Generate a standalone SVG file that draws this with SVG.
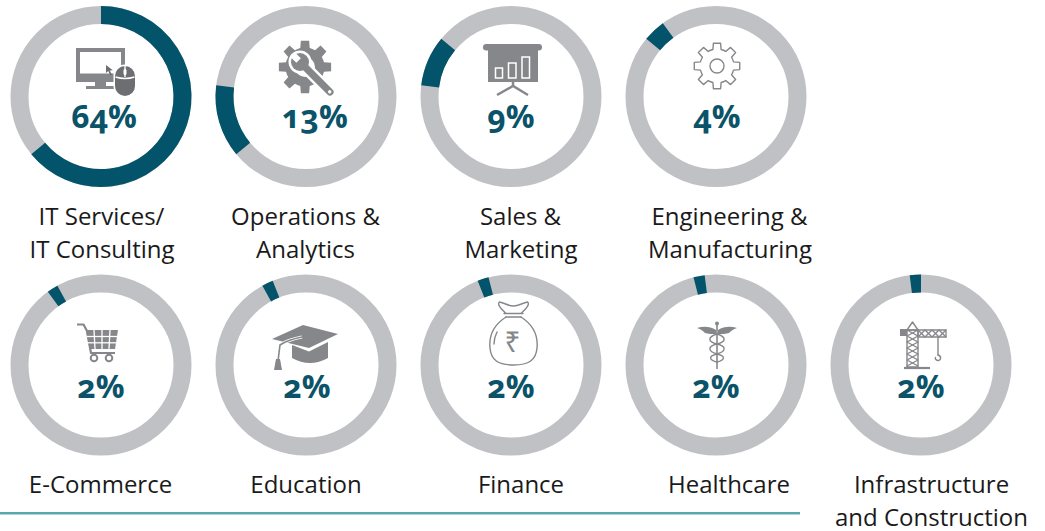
<svg xmlns="http://www.w3.org/2000/svg" width="1045" height="531" viewBox="0 0 1045 531">
<style>
.track{fill:none;stroke:#c0c1c4;stroke-width:18}
.arc{fill:none;stroke:#03546a;stroke-width:18;stroke-linecap:butt}
.pct{font-family:"Open Sans","Liberation Sans",sans-serif;font-weight:700;font-size:32px;fill:#0b5369;text-anchor:middle;font-variant-numeric:oldstyle-nums;font-feature-settings:"onum" 1}
.lbl{font-family:"Open Sans","Liberation Sans",sans-serif;font-size:24px;fill:#1a1a1a;text-anchor:middle}
.ic{fill:#86878a}
.icd{fill:#6d6e71}
.ln{fill:none;stroke:#86878a;stroke-width:1.4;stroke-linejoin:round;stroke-linecap:round}
</style>
<defs>
<path id="gear" d="M-4.11,-16.5 L-3.6,-22.72 L3.6,-22.72 L4.11,-16.5 A17 17 0 0 1 8.76,-14.57 L13.52,-18.61 L18.61,-13.52 L14.57,-8.76 A17 17 0 0 1 16.5,-4.11 L22.72,-3.6 L22.72,3.6 L16.5,4.11 A17 17 0 0 1 14.57,8.76 L18.61,13.52 L13.52,18.61 L8.76,14.57 A17 17 0 0 1 4.11,16.5 L3.6,22.72 L-3.6,22.72 L-4.11,16.5 A17 17 0 0 1 -8.76,14.57 L-13.52,18.61 L-18.61,13.52 L-14.57,8.76 A17 17 0 0 1 -16.5,4.11 L-22.72,3.6 L-22.72,-3.6 L-16.5,-4.11 A17 17 0 0 1 -14.57,-8.76 L-18.61,-13.52 L-13.52,-18.61 L-8.76,-14.57 A17 17 0 0 1 -4.11,-16.5 Z"/>
</defs>

<g id="it-services">
<circle class="track" cx="101" cy="96.5" r="81.5"/>
<path class="arc" d="M101,15 A81.5 81.5 0 1 1 38.2,148.45"/>
<rect class="ic" x="76" y="48" width="49" height="34"/>
<rect x="80" y="52" width="41" height="21.5" fill="#fff"/>
<rect class="ic" x="95" y="82" width="11" height="5"/>
<rect class="ic" x="86" y="86" width="30" height="3"/>
<polygon class="icd" points="106,65 106,73 108.2,71 110.5,75.5 112,74.8 109.8,70.5 112.8,70.3"/>
<rect x="115" y="66" width="20" height="30" rx="10" fill="#fff" stroke="#fff" stroke-width="3"/>
<rect class="icd" x="115" y="66" width="20" height="30" rx="10"/>
<path d="M125,66 L125,77 M115.5,77 Q125,80 134.5,77" stroke="#fff" stroke-width="1.4" fill="none"/>
<rect x="123.5" y="69" width="3" height="6" rx="1.5" fill="#fff"/>
<text class="pct" x="104" y="128">64%</text>
<text class="lbl" x="101.5" y="224.5">IT Services/</text>
<text class="lbl" x="102" y="257.5">IT Consulting</text>
</g>

<g id="operations-analytics">
<circle class="track" cx="306" cy="96.5" r="81.5"/>
<path class="arc" d="M243.2,148.45 A81.5 81.5 0 0 1 225.14,86.29"/>
<use href="#gear" class="ic" transform="translate(305,67) scale(1.15)"/>
<circle cx="305" cy="67" r="10" fill="#fff"/>
<g transform="translate(300,62) rotate(45)">
<circle cx="0" cy="0" r="9" fill="#fff" stroke="#fff" stroke-width="5"/>
<rect x="0" y="-3.6" width="46" height="7.2" rx="3.6" fill="#fff" stroke="#fff" stroke-width="5"/>
<circle class="ic" cx="0" cy="0" r="9"/>
<rect class="ic" x="0" y="-3.6" width="46" height="7.2" rx="3.6"/>
<rect x="-11" y="-3.2" width="9" height="6.4" fill="#fff"/>
<circle cx="42" cy="0" r="1.7" fill="#fff"/>
</g>
<text class="pct" x="315" y="128">13%</text>
<text class="lbl" x="305.5" y="224.5">Operations &amp;</text>
<text class="lbl" x="305.5" y="257.5">Analytics</text>
</g>

<g id="sales-marketing">
<circle class="track" cx="511" cy="96.5" r="81.5"/>
<path class="arc" d="M430.14,86.29 A81.5 81.5 0 0 1 448.2,44.55"/>
<rect class="ic" x="483" y="44" width="59" height="6.5" rx="3.2"/>
<rect class="ic" x="488" y="50" width="50" height="32"/>
<g fill="none" stroke="#fff" stroke-width="1.5">
<rect x="495.5" y="68" width="7" height="10"/>
<rect x="508.5" y="63" width="7.5" height="15"/>
<rect x="522" y="57" width="7.5" height="21"/>
</g>
<polyline points="497,95 513,86 528,95" fill="none" stroke="#86878a" stroke-width="2.5"/>
<line x1="513" y1="82" x2="513" y2="86.5" stroke="#86878a" stroke-width="2.5"/>
<text class="pct" x="511" y="128">9%</text>
<text class="lbl" x="520.5" y="224.5">Sales &amp;</text>
<text class="lbl" x="521" y="257.5">Marketing</text>
</g>

<g id="engineering-manufacturing">
<circle class="track" cx="716" cy="96.5" r="81.5"/>
<path class="arc" d="M653.2,44.55 A81.5 81.5 0 0 1 668.1,30.56"/>
<use href="#gear" class="ln" transform="translate(717,66)"/>
<circle class="ln" cx="717" cy="66" r="7"/>
<text class="pct" x="717" y="128">4%</text>
<text class="lbl" x="729.5" y="224.5">Engineering &amp;</text>
<text class="lbl" x="730" y="257.5">Manufacturing</text>
</g>

<g id="e-commerce">
<circle class="track" cx="101" cy="365" r="81.5"/>
<path class="arc" d="M53.1,299.06 A81.5 81.5 0 0 1 61.74,293.58"/>
<path d="M77,324.5 L83.5,324.5 L87,331 L91,353 L115,353" fill="none" stroke="#86878a" stroke-width="2.2" stroke-linejoin="round"/>
<polygon class="ic" points="86,330 118,330 115,349 89.5,349"/>
<g stroke="#fff" stroke-width="1.3">
<line x1="87" y1="336.5" x2="117" y2="336.5"/>
<line x1="88" y1="342.8" x2="116" y2="342.8"/>
<line x1="94" y1="330" x2="95" y2="349"/>
<line x1="102" y1="330" x2="102" y2="349"/>
<line x1="110" y1="330" x2="109" y2="349"/>
</g>
<circle cx="94" cy="358" r="3.3" fill="#fff" stroke="#86878a" stroke-width="2"/>
<circle cx="109" cy="358" r="3.3" fill="#fff" stroke="#86878a" stroke-width="2"/>
<text class="pct" x="101" y="398">2%</text>
<text class="lbl" x="100.5" y="493">E-Commerce</text>
</g>

<g id="education">
<circle class="track" cx="306" cy="365" r="81.5"/>
<path class="arc" d="M266.74,293.58 A81.5 81.5 0 0 1 276,289.22"/>
<path class="ic" d="M292,345 L292,358 Q310,368 328,358 L328,342 L309,351.5 Z"/>
<polygon class="ic" points="272,339 303,325 338,334 309,348"/>
<path d="M302,337 Q287,340 280,345 L278,361" fill="none" stroke="#fff" stroke-width="3.2"/>
<path d="M302,337 Q287,340 280,345 L278,361" fill="none" stroke="#86878a" stroke-width="1.6"/>
<polygon class="ic" points="276,359 280,359 282,370 274,370"/>
<text class="pct" x="307" y="398">2%</text>
<text class="lbl" x="306" y="493">Education</text>
</g>

<g id="finance">
<circle class="track" cx="511" cy="365" r="81.5"/>
<path class="arc" d="M481,289.22 A81.5 81.5 0 0 1 490.73,286.06"/>
<path class="ln" d="M506,317 C492,326 489,338 490,348 C491,360 498,365 513.5,365 C529,365 536,360 537,348 C538,338 535,326 521,317"/>
<path class="ln" d="M504,313.5 L523,313.5 M506,317 L521,317 M506,313.5 C500,308 497,304 499.5,302 C505,303 508,306 513.5,306 C519,306 522,303 527.5,302 C530,304 527,308 521,313.5"/>
<path class="ln" d="M497,332 Q494,338 494,344"/>
<text x="512.5" y="352" font-family="'Noto Sans','DejaVu Sans',sans-serif" font-size="28" fill="#86878a" text-anchor="middle">₹</text>
<text class="pct" x="511" y="398">2%</text>
<text class="lbl" x="521" y="493">Finance</text>
</g>

<g id="healthcare">
<circle class="track" cx="716" cy="365" r="81.5"/>
<path class="arc" d="M695.73,286.06 A81.5 81.5 0 0 1 705.79,284.14"/>
<line x1="717" y1="323" x2="717" y2="369" stroke="#86878a" stroke-width="1.6"/>
<circle class="ic" cx="717" cy="323.5" r="2"/>
<path class="ic" d="M716,330 C710,326 703,326 697,328 C701,329 703,331 705,333 C708,334 712,334 716,334 Z"/>
<path class="ic" d="M718,330 C724,326 731,326 737,328 C733,329 731,331 729,333 C726,334 722,334 718,334 Z"/>
<path class="ln" d="M717,334 C707,337 708,342 717,344 C726,346 727,351 717,354 C708,356 709,360 717,362"/>
<path class="ln" d="M717,334 C727,337 726,342 717,344 C708,346 707,351 717,354 C726,356 725,360 717,362"/>
<text class="pct" x="716" y="398">2%</text>
<text class="lbl" x="729" y="493">Healthcare</text>
</g>

<g id="infrastructure-construction">
<circle class="track" cx="921" cy="365" r="81.5"/>
<path class="arc" d="M910.79,284.14 A81.5 81.5 0 0 1 921,283.5"/>
<g class="ln" stroke-width="1.3">
<polygon points="907,330 912.5,322 918,330"/>
<rect x="907" y="330" width="11" height="37"/>
<polyline points="907,330 918,336 907,342 918,348 907,354 918,360 907,366"/>
<polyline points="918,330 907,336 918,342 907,348 918,354 907,360 918,366"/>
<rect x="918" y="330" width="28" height="7"/>
<polyline points="918,330 925,337 932,330 939,337 946,330"/>
<polyline points="918,337 925,330 932,337 939,330 946,337"/>
<line x1="938" y1="337" x2="938" y2="355"/>
<path d="M938,355 C942,356 941,361 937.5,360.5 C935.5,360 935,358.5 935.5,357.5"/>
</g>
<rect class="ic" x="900" y="329" width="7" height="7"/>
<line x1="904" y1="368" x2="930" y2="368" stroke="#86878a" stroke-width="2.2"/>
<text class="pct" x="921" y="398">2%</text>
<text class="lbl" x="931.5" y="493">Infrastructure</text>
<text class="lbl" x="931.5" y="526">and Construction</text>
</g>

<g id="connectors">
<rect x="0" y="512" width="800" height="2.5" fill="#5aa6a8"/>
</g>
</svg>
